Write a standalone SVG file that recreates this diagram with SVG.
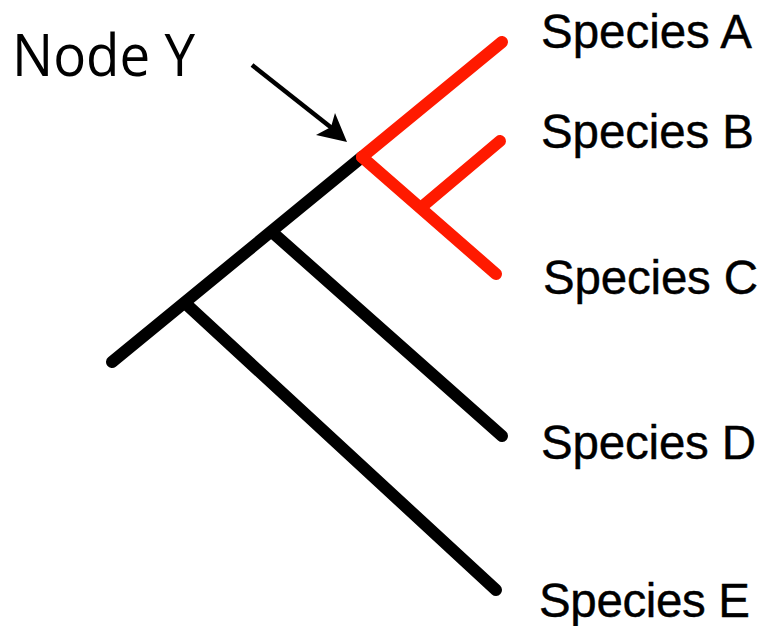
<svg xmlns="http://www.w3.org/2000/svg" width="763" height="626" viewBox="0 0 763 626">
<style>
.br{fill:none;stroke-width:12;stroke-linecap:round;stroke-linejoin:round}
.k{stroke:#000}
.r{stroke:#ff1a00}
.lbl{font-family:"Liberation Sans",Arial,sans-serif;font-size:47.5px;fill:#000;stroke:#000;stroke-width:0.4}
.ny{font-family:"Open Sans","Noto Sans",sans-serif;font-size:59px;fill:#000}
</style>
<rect width="763" height="626" fill="#fff"/>
<g id="connectors">
<path class="br k" d="M112,362 L362,157"/>
<path class="br k" d="M185,303 L496,590"/>
<path class="br k" d="M272,232 L502,436"/>
<path class="br r" d="M362,157 L502,42"/>
<path class="br r" d="M362,157 L496,274"/>
<path class="br r" d="M424,205 L500,141"/>
<line x1="252" y1="65" x2="333" y2="129" stroke="#000" stroke-width="4.5"/>
<path d="M347,142 L335,113 L331,127 L316,135 Z" fill="#000"/>
</g>
<g id="node-y"><text class="ny" x="12" y="76" textLength="183" lengthAdjust="spacingAndGlyphs">Node Y</text></g>
<g id="species-a"><text class="lbl" x="541" y="48" textLength="211">Species A</text></g>
<g id="species-b"><text class="lbl" x="541" y="148" textLength="213">Species B</text></g>
<g id="species-c"><text class="lbl" x="543" y="294" textLength="215">Species C</text></g>
<g id="species-d"><text class="lbl" x="541" y="459" textLength="215">Species D</text></g>
<g id="species-e"><text class="lbl" x="539" y="617" textLength="211">Species E</text></g>
</svg>
